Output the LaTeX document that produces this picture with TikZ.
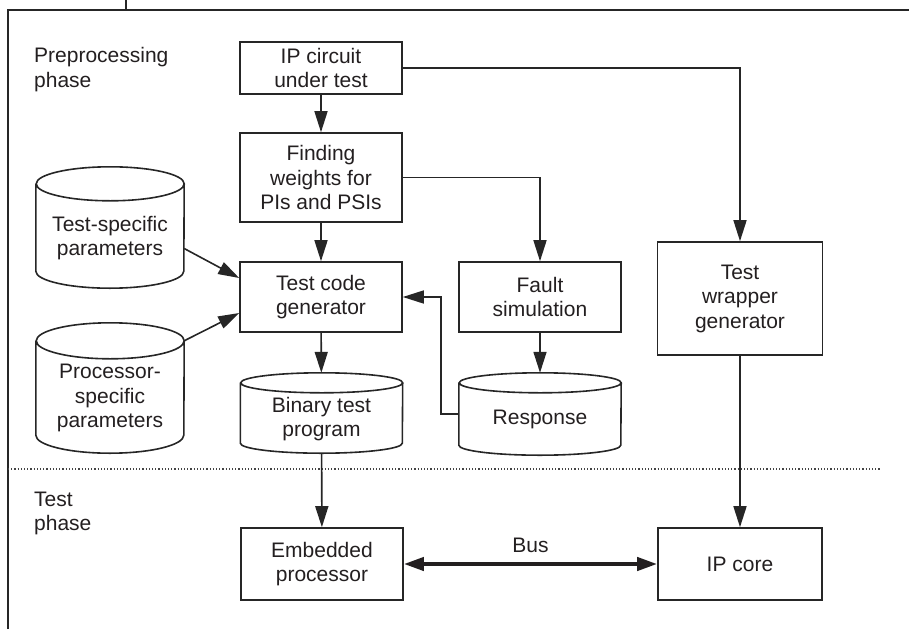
\documentclass[tikz,border=0pt]{standalone}
\usepackage{fontspec}
\setmainfont{Liberation Sans}
\usetikzlibrary{arrows.meta}

\definecolor{inkc}{HTML}{231F20}
\definecolor{linec}{HTML}{262626}
\definecolor{dotc}{HTML}{444444}

% cylinder outline around a (borderless) node: #1 node, #2 x radius, #3 y radius
\newcommand\drumoutline[3]{%
  \draw[edge] ([yshift=-#3]#1.north west) -- ([yshift=#3]#1.south west)
    arc[start angle=180, end angle=360, x radius=#2, y radius=#3]
    -- ([yshift=-#3]#1.north east)
    arc[start angle=0, end angle=360, x radius=#2, y radius=#3];
}

\tikzset{
  txt/.style={font=\fontsize{21}{24.5}\selectfont, text=inkc, align=center, inner sep=0pt},
  edge/.style={draw=linec, line width=1.6pt},
  procbox/.style={txt, edge, minimum width=162pt},
  drumbox/.style={inner sep=0pt, minimum width=162pt},
  arr/.style={edge, -{Triangle[length=21pt, width=13pt]}},
  busarr/.style={draw=inkc, line width=4pt, {Triangle[length=20pt, width=13pt]}-{Triangle[length=20pt, width=13pt]}},
}

\begin{document}
\begin{tikzpicture}[x=1pt, y=-1pt]
\useasboundingbox (0,0) rectangle (909,629);

% outer frame (partial)
\draw[draw=linec, line width=2pt] (126,0) -- (126,9.5);
\draw[draw=linec, line width=2pt] (8,629) -- (8,9.5) -- (909,9.5);

% phase captions
\node[txt, anchor=north west, align=left] (prephase) at (34,47.5) {Preprocessing\\phase};
\node[txt, anchor=north west, align=left] (testphase) at (34,491.5) {Test\\phase};

% phase separator
\draw[dotc, line width=1.2pt, dash pattern=on 1.2pt off 2pt] (8,469) -- (880,469);

% process boxes
\node[procbox, minimum height=52pt] (ip) at (321,68) {IP circuit\\under test};
\node[procbox, minimum height=89pt] (find) at (321,177.5) {Finding\\weights for\\PIs and PSIs};
\node[procbox, minimum height=70pt] (gen) at (321,297) {Test code\\generator};
\node[procbox, minimum height=70pt] (fault) at (540,297) {Fault\\simulation};
\node[procbox, minimum width=165pt, minimum height=113pt] (wrap) at (740,298.5) {Test\\wrapper\\generator};
\node[procbox, minimum height=72pt] (emb) at (322,564) {Embedded\\processor};
\node[procbox, minimum width=164pt, minimum height=72pt] (ipc) at (740,564) {IP core};

% storage cylinders
\node[drumbox, minimum width=148pt, minimum height=121pt] (tsp) at (110,227.5) {};
\drumoutline{tsp}{74pt}{17pt}
\node[txt] (tsplabel) at (110,238) {Test-specific\\parameters};

\node[drumbox, minimum width=148pt, minimum height=130pt] (psp) at (110,388) {};
\drumoutline{psp}{74pt}{18pt}
\node[txt] (psplabel) at (110,398) {Processor-\\specific\\parameters};

\node[drumbox, minimum height=80pt] (bin) at (321.5,413) {};
\drumoutline{bin}{81pt}{10pt}
\node[txt] (binlabel) at (321.5,419) {Binary test\\program};

\node[drumbox, minimum height=82pt] (resp) at (540,414) {};
\drumoutline{resp}{81pt}{10pt}
\node[txt] (resplabel) at (540,419) {Response};

% connectors
\draw[arr] (ip) -- (find);
\draw[arr] (find) -- (gen);
\draw[arr] (gen) -- (bin);
\draw[arr] (fault) -- (resp);
\draw[arr] (bin) -- (emb);
\draw[arr] (wrap) -- (ipc);
\draw[arr] (ip.east) -| (wrap.north);
\draw[arr] (find.east) -| (fault.north);
\draw[arr] ([yshift=-21pt]tsp.east) -- ([yshift=19pt]gen.west);
\draw[arr] ([yshift=-18pt]psp.north east) -- ([yshift=-16pt]gen.west);
\draw[arr] (resp.west) -- ++(-18,0) |- (gen.east);

% bus between processor and core
\draw[busarr] (emb.east) -- (ipc.west)
  node[txt, midway, above=9pt] (buslabel) {Bus};
\end{tikzpicture}
\end{document}
